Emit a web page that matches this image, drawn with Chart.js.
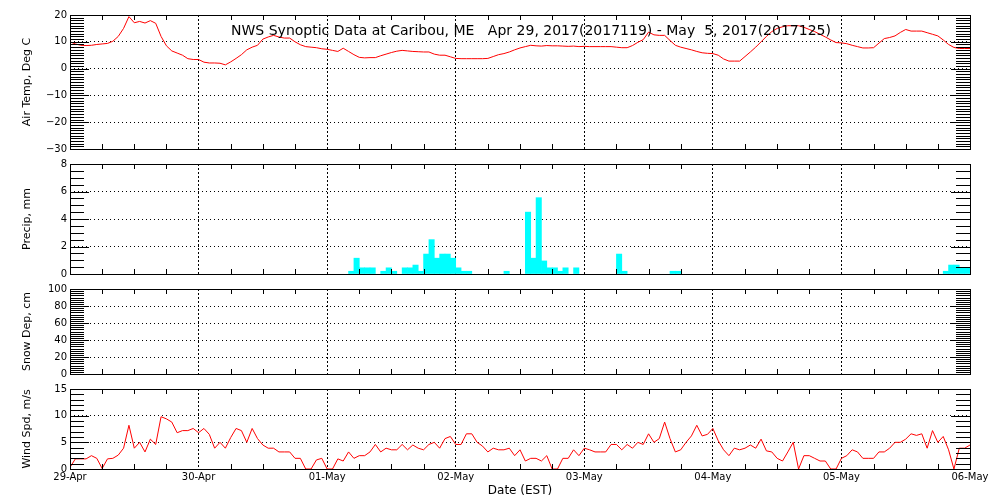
<!DOCTYPE html>
<html>
<head>
<meta charset="utf-8">
<title>NWS Synoptic Data at Caribou, ME</title>
<script src="https://cdn.jsdelivr.net/npm/chart.js@4/dist/chart.umd.min.js"></script>
<style>
  body { margin: 0; background: #fff; }
  #wrap { position: relative; width: 1000px; height: 500px; }
  #wrap canvas { position: absolute; left: 0; top: 0; }
</style>
</head>
<body>
<div id="wrap">
  <canvas id="tempChart" width="1000" height="500"></canvas>
  <canvas id="precipChart" width="1000" height="500"></canvas>
  <canvas id="snowChart" width="1000" height="500"></canvas>
  <canvas id="windChart" width="1000" height="500"></canvas>
</div>
<script>
// Data (hour 0 = 29-Apr 00 EST, hourly obs)
const dayLabels = ['29-Apr', '30-Apr', '01-May', '02-May', '03-May', '04-May', '05-May', '06-May'];
const chartTitle = 'NWS Synoptic Data at Caribou, ME   Apr 29, 2017(2017119) - May  5, 2017(2017125)';

const airTemp = [
    10.0, 9.2, 8.7, 8.6, 8.7, 9.0, 9.2, 9.4, 10.2, 12.0, 15.0, 19.4,
    17.1, 17.6, 17.0, 17.9, 16.9, 12.0, 8.5, 6.6, 5.8, 5.0, 3.7, 3.4,
    3.4, 2.4, 2.1, 2.1, 2.0, 1.4, 2.5, 3.8, 5.2, 7.0, 8.0, 8.7,
    11.0, 11.8, 12.4, 11.8, 11.4, 11.4, 10.0, 8.9, 8.2, 8.0, 7.8, 7.4,
    7.2, 6.8, 6.4, 7.6, 6.4, 5.2, 4.2, 4.0, 4.1, 4.1, 4.8, 5.4,
    6.0, 6.5, 6.8, 6.6, 6.4, 6.3, 6.2, 6.2, 5.4, 5.0, 5.0, 4.4,
    3.8, 3.7, 3.7, 3.7, 3.7, 3.7, 3.8, 4.5, 5.2, 5.6, 6.2, 7.0,
    7.7, 8.2, 8.7, 8.5, 8.4, 8.6, 8.5, 8.5, 8.4, 8.3, 8.4, 8.2,
    8.3, 8.2, 8.2, 8.2, 8.2, 8.2, 8.0, 7.8, 7.8, 8.6, 9.8, 10.8,
    13.6, 12.6, 12.4, 12.4, 10.5, 8.7, 8.0, 7.5, 7.0, 6.4, 5.9, 5.7,
    5.6, 5.0, 3.6, 2.8, 2.8, 2.8, 4.5, 6.2, 8.0, 10.0, 12.0, 13.8,
    15.0, 15.6, 16.0, 16.0, 16.0, 15.4, 14.6, 13.8, 12.8, 11.8, 10.7, 9.7,
    9.6, 9.3, 8.7, 8.2, 7.7, 7.7, 7.8, 9.5, 11.2, 11.6, 12.2, 13.5,
    14.6, 14.0, 14.0, 14.0, 13.4, 12.8, 12.2, 10.7, 9.0, 7.9, 7.5, 7.5,
    7.5
];

const precipHours = [52, 53, 54, 55, 56, 58, 59, 60, 62, 63, 64, 65, 66, 67, 68, 69, 70, 71, 72, 73,
    74, 81, 85, 86, 87, 88, 89, 90, 91, 92, 94, 102, 103, 112, 113, 163, 164, 165, 166, 167];
const precipVals = [0.2, 1.15, 0.45, 0.45, 0.45, 0.2, 0.45, 0.2, 0.45, 0.45, 0.65, 0.2, 1.45, 2.5, 1.15, 1.45, 1.45, 1.15, 0.45, 0.2,
    0.2, 0.2, 4.5, 1.15, 5.55, 0.95, 0.45, 0.45, 0.2, 0.45, 0.45, 1.45, 0.2, 0.2, 0.2, 0.2, 0.65, 0.65, 0.45, 0.45];

const snowDepth = []; // no snow reported

const windSpd = [
    0.3, 1.9, 1.9, 1.9, 2.5, 2.0, 0.1, 1.9, 2.0, 2.6, 3.9, 8.2,
    3.9, 5.0, 3.2, 5.6, 4.6, 9.8, 9.4, 8.8, 6.8, 7.2, 7.2, 7.6,
    6.8, 7.6, 6.5, 3.9, 5.0, 3.9, 5.9, 7.6, 7.2, 5.0, 7.6, 5.7,
    4.5, 3.9, 3.9, 3.2, 3.2, 3.2, 2.0, 2.0, 0.0, 0.0, 1.7, 2.0,
    0.0, 0.0, 1.9, 1.5, 3.2, 2.0, 2.5, 2.5, 3.2, 4.6, 3.2, 3.9,
    3.6, 3.6, 4.6, 3.6, 4.5, 3.9, 3.6, 4.6, 5.0, 3.9, 5.7, 6.1,
    4.6, 4.6, 6.6, 6.6, 5.0, 4.3, 3.2, 3.9, 3.6, 3.6, 3.9, 2.5,
    3.6, 1.5, 2.0, 2.0, 1.5, 2.5, 0.0, 0.0, 2.0, 2.0, 3.6, 2.5,
    3.9, 3.6, 3.2, 3.2, 3.2, 4.6, 4.6, 3.6, 4.6, 3.9, 5.0, 4.6,
    6.6, 5.0, 5.7, 8.8, 5.7, 3.2, 3.6, 5.0, 6.2, 8.2, 6.2, 6.5,
    7.6, 5.3, 3.6, 2.5, 3.9, 3.6, 3.9, 4.5, 3.9, 5.6, 3.4, 3.2,
    2.0, 1.5, 3.2, 5.0, 0.0, 2.5, 2.5, 2.0, 1.5, 1.5, 0.0, 0.0,
    2.0, 2.5, 3.6, 3.2, 2.0, 2.0, 2.0, 3.2, 3.2, 3.9, 5.0, 5.0,
    5.6, 6.6, 6.3, 6.6, 3.9, 7.2, 5.0, 6.1, 3.6, 0.0, 3.9, 3.9,
    4.5
];

Chart.defaults.font.family = "'DejaVu Sans', sans-serif";
Chart.defaults.font.size = 10;
Chart.defaults.color = '#000';

const hourly = vals => vals.map((v, i) => ({ x: i, y: v }));
const minusLabel = v => (v < 0 ? '\u2212' + Math.abs(v) : String(v));

// Frame + inward tick marks (IDL style), plus the title inside the top panel
const framePlugin = {
    id: 'frame',
    afterDraw(chart, args, opts) {
        const { ctx, chartArea: a, scales: { x, y } } = chart;
        ctx.save();
        ctx.strokeStyle = '#000';
        ctx.lineWidth = 1;
        ctx.beginPath();
        const n = Math.round((y.max - y.min) / opts.minor);
        const every = Math.round(opts.major / opts.minor);
        for (let i = 0; i <= n; i++) {
            const py = Math.round(y.getPixelForValue(y.min + i * opts.minor)) + 0.5;
            const len = i % every === 0 ? 19 : 14;
            ctx.moveTo(a.left, py); ctx.lineTo(a.left + len, py);
            ctx.moveTo(a.right, py); ctx.lineTo(a.right - len, py);
        }
        for (let h = 6; h < 168; h += 6) {
            if (h % 24 === 0) continue;
            const px = Math.round(x.getPixelForValue(h)) + 0.5;
            ctx.moveTo(px, a.top); ctx.lineTo(px, a.top + 5);
            ctx.moveTo(px, a.bottom); ctx.lineTo(px, a.bottom - 5);
        }
        ctx.stroke();
        ctx.strokeRect(a.left + 0.5, a.top + 0.5, a.right - a.left, a.bottom - a.top);

        if (opts.title) {
            ctx.font = "14px 'DejaVu Sans'";
            ctx.fillStyle = '#000';
            ctx.textBaseline = 'alphabetic';
            const w = ctx.measureText(opts.title).width;
            ctx.translate(opts.titleX, opts.titleY);
            ctx.scale(opts.titleW / w, 1);
            ctx.fillText(opts.title, 0, 0);
        }
        ctx.restore();
    }
};

function panelOptions(p) {
    return {
        responsive: false,
        animation: false,
        events: [],
        layout: { padding: { left: 0, right: 30, top: p.top, bottom: p.showX ? 0 : 500 - p.bottom } },
        plugins: {
            legend: { display: false },
            tooltip: { enabled: false },
            frame: { minor: p.minor, major: p.step, title: p.title, titleX: 231, titleY: 35, titleW: 600 }
        },
        scales: {
            x: {
                type: 'linear',
                min: 0,
                max: 168,
                offset: false,
                afterFit: s => { s.height = p.showX ? 500 - p.bottom : 0; },
                ticks: {
                    display: p.showX,
                    stepSize: 24,
                    autoSkip: false,
                    maxRotation: 0,
                    padding: 2,
                    callback: v => dayLabels[Math.round(v / 24)]
                },
                grid: { color: '#000', lineWidth: 1, drawTicks: false, offset: false },
                border: { display: false, dash: [2, 2] },
                title: { display: p.showX, text: 'Date (EST)', font: { size: 12 }, padding: { top: 0, bottom: 2 } }
            },
            y: {
                min: p.min,
                max: p.max,
                afterFit: s => { s.width = 70; },
                ticks: { stepSize: p.step, autoSkip: false, padding: 3, callback: minusLabel },
                grid: {
                    color: c => (c.tick && (c.tick.value === p.min || c.tick.value === p.max)) ? 'rgba(0,0,0,0)' : '#000',
                    drawTicks: false
                },
                border: { display: false, dash: [1, 3] },
                title: { display: true, text: p.yTitle, font: { size: 11 }, padding: { top: 21, bottom: 0 } }
            }
        }
    };
}

// Air temperature
new Chart(document.getElementById('tempChart'), {
    type: 'line',
    data: { datasets: [{ data: hourly(airTemp), borderColor: '#ff0000', borderWidth: 1, pointRadius: 0, tension: 0 }] },
    options: panelOptions({ top: 15, bottom: 149, min: -30, max: 20, step: 10, minor: 1, yTitle: 'Air Temp, Deg C', title: chartTitle }),
    plugins: [framePlugin]
});

// Precipitation (hourly bars, centred on the middle of each hour)
new Chart(document.getElementById('precipChart'), {
    type: 'bar',
    data: {
        datasets: [{
            data: precipHours.map((h, i) => ({ x: h + 0.5, y: precipVals[i] })),
            backgroundColor: '#00ffff',
            borderWidth: 0,
            barPercentage: 1,
            categoryPercentage: 1
        }]
    },
    options: panelOptions({ top: 164, bottom: 274, min: 0, max: 8, step: 2, minor: 0.5, yTitle: 'Precip, mm' }),
    plugins: [framePlugin]
});

// Snow depth
new Chart(document.getElementById('snowChart'), {
    type: 'line',
    data: { datasets: [{ data: hourly(snowDepth), borderColor: '#ff0000', borderWidth: 1, pointRadius: 0 }] },
    options: panelOptions({ top: 289, bottom: 374, min: 0, max: 100, step: 20, minor: 2.5, yTitle: 'Snow Dep, cm' }),
    plugins: [framePlugin]
});

// Wind speed
new Chart(document.getElementById('windChart'), {
    type: 'line',
    data: { datasets: [{ data: hourly(windSpd), borderColor: '#ff0000', borderWidth: 1, pointRadius: 0, tension: 0 }] },
    options: panelOptions({ top: 389, bottom: 469, min: 0, max: 15, step: 5, minor: 1, yTitle: 'Wind Spd, m/s', showX: true }),
    plugins: [framePlugin]
});
</script>
</body>
</html>
